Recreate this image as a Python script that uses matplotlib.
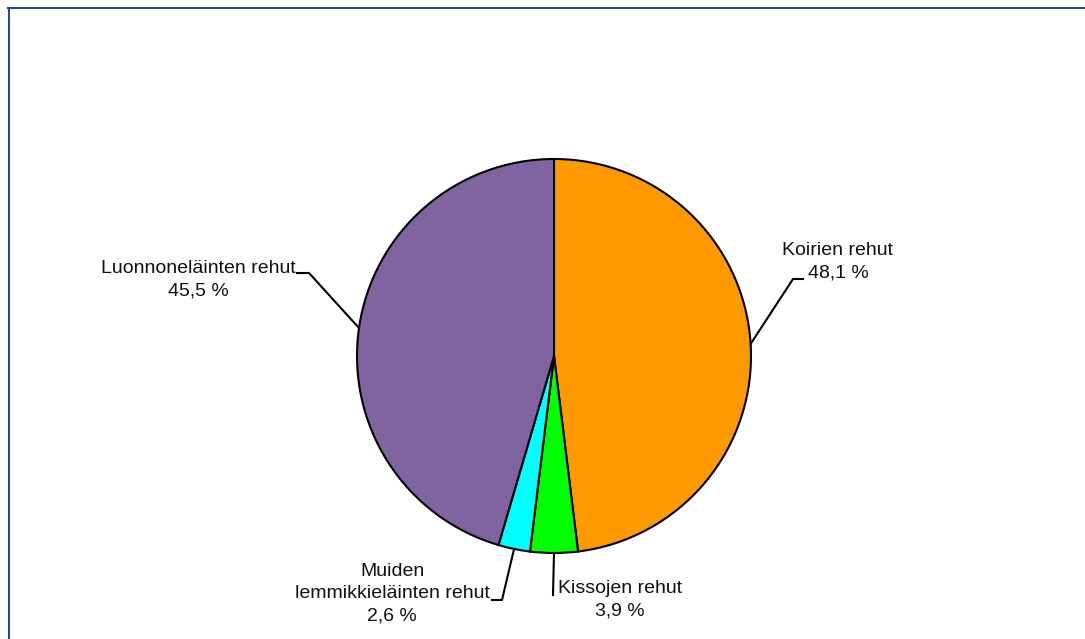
import matplotlib
matplotlib.use("Agg")
import matplotlib.pyplot as plt
import numpy as np
from matplotlib.lines import Line2D

plt.rcParams['font.family'] = ['Liberation Sans', 'DejaVu Sans']

categories = ["Koirien rehut", "Kissojen rehut", "Muiden\nlemmikkieläinten rehut", "Luonnoneläinten rehut"]
values = [48.1, 3.9, 2.6, 45.5]
value_labels = ["48,1 %", "3,9 %", "2,6 %", "45,5 %"]
colors = ["#FF9900", "#00FF00", "#00FFFF", "#8064A2"]

W, H = 1085, 639
fig = plt.figure(figsize=(W / 100, H / 100), dpi=100)

cx, cy, R = 554, 356, 197
ax = fig.add_axes([(cx - R) / W, (H - cy - R) / H, 2 * R / W, 2 * R / H])
wedges, _ = ax.pie(values, colors=colors, startangle=90, counterclock=False,
                   radius=1.0, wedgeprops=dict(edgecolor="black", linewidth=1.5))
for w in wedges:
    w.set_clip_on(False)
ax.set_xlim(-1, 1)
ax.set_ylim(-1, 1)
ax.set_aspect('auto')
ax.axis('off')


def px2d(px, py):
    return (px - cx) / R, (cy - py) / R


# label layout: (text center px, leader path px points after edge point)
layout = [
    ((838, 262), [(793, 279), (803, 279)]),
    ((620, 600), [(553, 595)]),
    ((392, 594), [(502, 600), (492, 600)]),
    ((198, 280), [(309, 273), (297, 273)]),
]

for w, cat, vl, (tpos, path) in zip(wedges, categories, value_labels, layout):
    mid = np.deg2rad((w.theta1 + w.theta2) / 2)
    ex, ey = np.cos(mid), np.sin(mid)
    pts = [(ex, ey)] + [px2d(*p) for p in path]
    xs, ys = zip(*pts)
    ax.add_line(Line2D(xs, ys, color="black", linewidth=1.5, clip_on=False))
    tx, ty = px2d(*tpos)
    ax.text(tx, ty, f"{cat}\n{vl}", ha="center", va="center", fontsize=14,
            linespacing=1.4, color="#111111", clip_on=False)

# figure border (top and left visible)
fig.add_artist(Line2D([8 / W, 1.0], [1 - 7.5 / H, 1 - 7.5 / H], transform=fig.transFigure,
                      color="#1F4E79", linewidth=1.5))
fig.add_artist(Line2D([8.5 / W, 8.5 / W], [0, 1 - 7.5 / H], transform=fig.transFigure,
                      color="#1F4E79", linewidth=1.5))

fig.savefig("out.png", dpi=100, facecolor="white")
